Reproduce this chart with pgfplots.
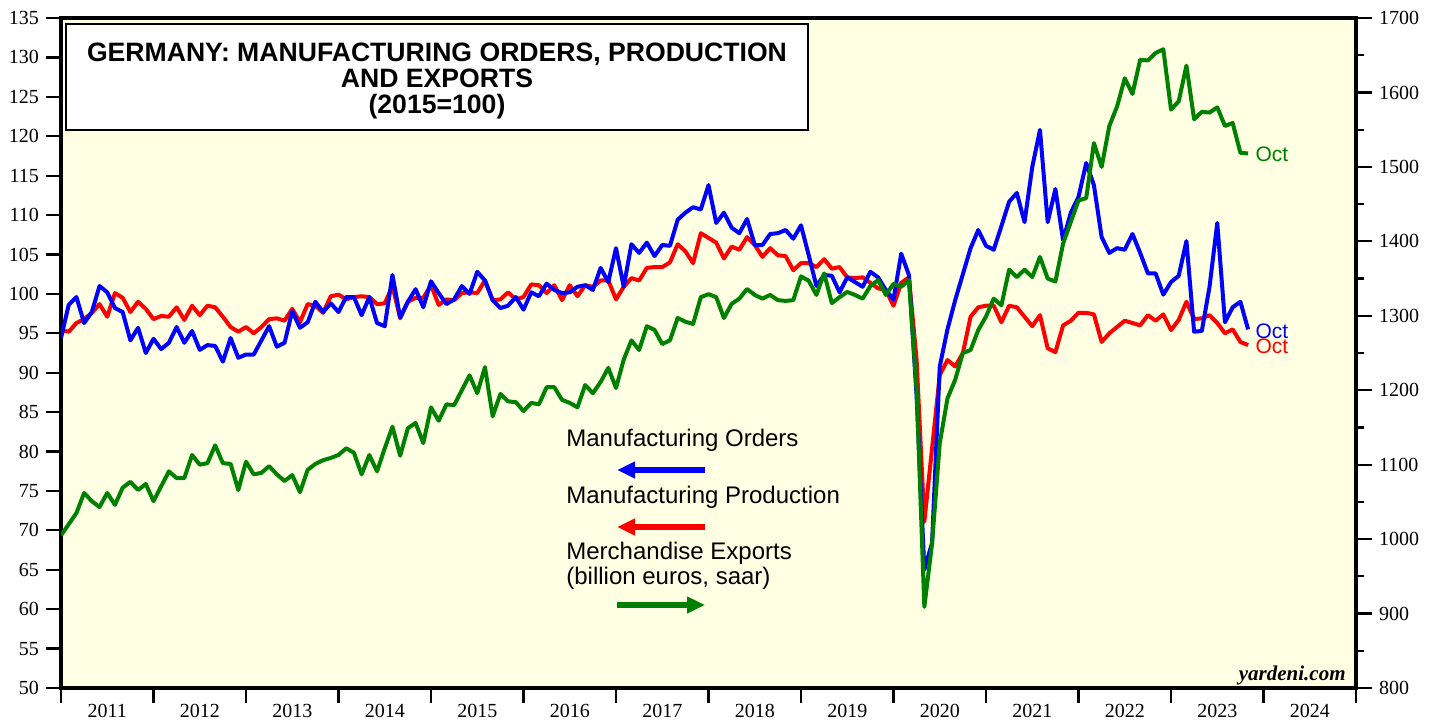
\documentclass[border=0pt]{standalone}
\usepackage{fontspec}
\setmainfont{Liberation Serif}
\newfontfamily\arial{Liberation Sans}
\usepackage{pgfplots}
\pgfplotsset{compat=1.18}
\usepackage{pgfplotstable}
\usetikzlibrary{arrows.meta}

\definecolor{bgyel}{RGB}{255,255,228}
\definecolor{ygreen}{RGB}{0,128,0}

% k = months since Dec 2010; ord, prod: 2015=100; exp: billion euros, saar
\pgfplotstableread{
k ord prod exp
0 94.4 95.4 1005
1 98.6 95.2 1020
2 99.6 96.3 1035
3 96.3 96.8 1062
4 97.7 97.6 1051
5 101.0 98.7 1043
6 100.2 97.1 1062
7 98.2 100.1 1046
8 97.7 99.5 1069
9 94.1 97.7 1077
10 95.7 99.0 1066
11 92.5 98.1 1074
12 94.3 96.8 1051
13 93.0 97.2 1071
14 93.8 97.1 1091
15 95.8 98.3 1082
16 93.8 96.7 1082
17 95.3 98.5 1113
18 92.9 97.3 1100
19 93.5 98.5 1102
20 93.4 98.3 1126
21 91.4 97.1 1102
22 94.4 95.8 1101
23 91.9 95.2 1066
24 92.3 95.8 1104
25 92.3 95.0 1087
26 94.1 95.8 1089
27 95.9 96.8 1098
28 93.3 96.9 1087
29 93.8 96.6 1078
30 97.8 98.1 1086
31 95.7 96.4 1063
32 96.4 98.7 1093
33 99.0 98.5 1101
34 97.7 97.6 1106
35 98.8 99.7 1109
36 97.7 99.9 1113
37 99.6 99.3 1122
38 99.6 99.6 1116
39 97.3 99.7 1087
40 99.6 99.6 1113
41 96.3 98.7 1091
42 95.9 98.8 1122
43 102.4 101.0 1151
44 97.0 96.9 1112
45 99.0 99.0 1149
46 100.6 99.5 1156
47 98.3 99.5 1129
48 101.6 101.1 1177
49 100.1 98.6 1159
50 98.7 99.3 1181
51 99.3 99.2 1180
52 101.0 100.1 1200
53 100.0 100.2 1220
54 102.8 100.1 1196
55 101.7 101.7 1231
56 99.2 99.2 1165
57 98.2 99.3 1195
58 98.5 100.2 1185
59 99.6 99.3 1184
60 98.0 99.6 1172
61 100.2 101.2 1183
62 99.7 101.1 1181
63 101.3 100.1 1204
64 100.5 101.1 1204
65 100.1 99.2 1187
66 100.2 101.1 1183
67 100.9 99.7 1177
68 101.1 101.1 1207
69 100.5 100.9 1196
70 103.3 101.7 1211
71 101.5 101.7 1230
72 105.8 99.3 1203
73 100.9 100.9 1241
74 106.3 102.0 1267
75 105.2 101.7 1254
76 106.5 103.3 1286
77 104.8 103.4 1281
78 106.2 103.4 1262
79 106.1 104.0 1267
80 109.4 106.3 1297
81 110.3 105.4 1292
82 111.0 103.9 1289
83 110.7 107.7 1325
84 113.8 107.1 1329
85 109.0 106.5 1325
86 110.3 104.5 1297
87 108.4 106.0 1316
88 107.7 105.6 1323
89 109.5 107.2 1336
90 106.2 106.2 1328
91 106.2 104.7 1323
92 107.6 105.8 1328
93 107.7 104.9 1321
94 108.1 104.8 1320
95 107.0 103.0 1321
96 108.7 103.9 1353
97 104.9 103.9 1347
98 101.0 103.4 1328
99 102.4 104.4 1357
100 102.3 103.2 1317
101 100.2 103.4 1325
102 102.1 102.1 1332
103 101.5 102.0 1328
104 100.9 102.1 1323
105 102.8 101.4 1340
106 102.1 100.7 1348
107 100.5 100.5 1328
108 99.3 98.5 1343
109 105.1 101.4 1339
110 102.4 102.1 1348
111 87.0 91.6 1200
112 65.0 71.1 909
113 68.4 80.4 994
114 90.8 89.7 1129
115 95.5 91.6 1189
116 99.2 90.8 1214
117 102.5 92.5 1250
118 105.8 97.1 1254
119 108.1 98.3 1281
120 106.1 98.5 1299
121 105.6 98.5 1323
122 108.6 96.4 1314
123 111.7 98.5 1362
124 112.8 98.3 1352
125 109.1 97.1 1362
126 116.1 95.9 1352
127 120.8 97.3 1379
128 109.1 93.1 1350
129 113.3 92.6 1346
130 106.8 96.0 1397
131 110.3 96.6 1426
132 112.3 97.6 1455
133 116.6 97.6 1458
134 113.8 97.4 1532
135 107.2 93.9 1500
136 105.2 95.0 1555
137 105.8 95.8 1581
138 105.6 96.6 1619
139 107.6 96.3 1598
140 105.2 96.0 1644
141 102.6 97.3 1643
142 102.6 96.6 1653
143 99.9 97.4 1658
144 101.5 95.4 1577
145 102.3 96.7 1588
146 106.7 99.0 1636
147 95.2 96.8 1564
148 95.3 96.9 1574
149 100.9 97.3 1573
150 109.0 96.3 1580
151 96.4 95.0 1555
152 98.3 95.5 1559
153 99.0 93.9 1519
154 95.5 93.5 1518
}\germany

\begin{document}
\begin{tikzpicture}
\path[use as bounding box] (0,0) rectangle (719pt,360.5pt);
\pgfplotsset{
  every axis/.append style={
    scale only axis, width=647.5pt, height=335pt,
    at={(30.5pt,16.5pt)}, anchor=south west,
    xmin=2011, xmax=2025,
    tick align=outside,
    tick style={black, line width=1.1pt},
    tick label style={font=\fontsize{10}{11}\selectfont},
    /pgf/number format/assume math mode=true,
    /pgf/number format/1000 sep={},
  },
}
\begin{axis}[
  axis background/.style={fill=bgyel},
  axis line style={line width=1.6pt},
  ymin=50, ymax=135,
  ytick={50,55,...,135},
  ytick pos=left,
  xtick pos=bottom,
  xtick={2011,...,2025},
  xticklabels={},
  major tick length=7.5pt,
  extra x ticks={2011.5,2012.5,2013.5,2014.5,2015.5,2016.5,2017.5,2018.5,2019.5,2020.5,2021.5,2022.5,2023.5,2024.5},
  extra x tick labels={2011,2012,2013,2014,2015,2016,2017,2018,2019,2020,2021,2022,2023,2024},
  extra x tick style={major tick length=0pt, xticklabel style={yshift=-4.5pt}},
]
\addplot[red, line width=2pt, line join=round] table[x expr=2011+\thisrow{k}/12, y=prod] {\germany};
\addplot[blue, line width=2pt, line join=round] table[x expr=2011+\thisrow{k}/12, y=ord] {\germany};
\node[anchor=west, text=blue, font=\arial\fontsize{10.5}{12}\selectfont, inner sep=0pt] at (axis cs:2023.91,95.3) {Oct};
\node[anchor=west, text=red, font=\arial\fontsize{10.5}{12}\selectfont, inner sep=0pt] at (axis cs:2023.91,93.4) {Oct};
\end{axis}
\begin{axis}[
  hide x axis,
  axis y line*=right,
  axis line style={line width=1.6pt},
  ymin=800, ymax=1700,
  ytick={800,900,...,1700},
  minor ytick={850,950,...,1650},
  major tick length=8pt,
  minor tick length=4pt,
]
\addplot[ygreen, line width=2pt, line join=round] table[x expr=2011+\thisrow{k}/12, y=exp] {\germany};
\node[anchor=west, text=ygreen, font=\arial\fontsize{10.5}{12}\selectfont, inner sep=0pt] at (axis cs:2023.91,1517) {Oct};
\end{axis}
\begin{scope}[x=0.5pt, y=-0.5pt, yshift=360.5pt]
\draw[line width=1.2pt, fill=white] (66,24) rectangle (808,130);
\node[align=center, font=\arial\bfseries\fontsize{13.3}{13}\selectfont] at (437,81)
  {GERMANY: MANUFACTURING ORDERS, PRODUCTION\\AND EXPORTS\\(2015=100)};
\begin{scope}[font=\arial\fontsize{12}{12.5}\selectfont]
\node[anchor=west, inner sep=0pt] at (566,440) {Manufacturing Orders};
\node[anchor=west, inner sep=0pt] at (566,497) {Manufacturing Production};
\node[anchor=west, inner sep=0pt, align=left] at (566,566) {Merchandise Exports\\(billion euros, saar)};
\end{scope}
\draw[blue, line width=3pt, -{Triangle[length=9pt,width=8pt]}] (705,470) -- (617,470);
\draw[red, line width=3pt, -{Triangle[length=9pt,width=8pt]}] (705,527) -- (617,527);
\draw[ygreen, line width=3pt, -{Triangle[length=9pt,width=8pt]}] (617,605) -- (705,605);
\node[anchor=east, inner sep=0pt, font=\bfseries\itshape\fontsize{10.5}{12}\selectfont] at (1346,675) {yardeni.com};
\end{scope}
\end{tikzpicture}
\end{document}
